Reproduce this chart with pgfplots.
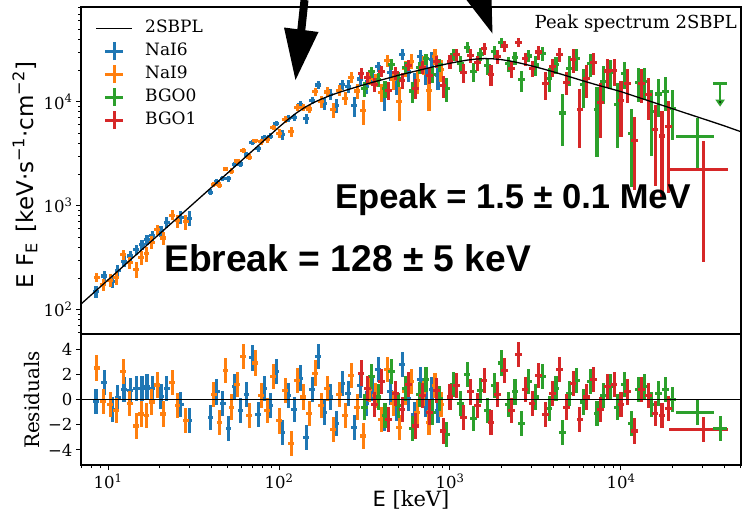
\documentclass[border=0pt]{standalone}
\usepackage{fontspec}
\setmainfont{DejaVu Serif}
\newfontfamily\djsans{DejaVu Sans}
\newfontfamily\lsans{Liberation Sans}
\usepackage{pgfplots}
\usepackage{pgfplotstable}
\pgfplotsset{compat=1.18}
\usetikzlibrary{arrows.meta}

\definecolor{c1}{HTML}{1F77B4}
\definecolor{c2}{HTML}{FF7F0E}
\definecolor{c3}{HTML}{2CA02C}
\definecolor{c4}{HTML}{D62728}

% columns: energy [keV], E F_E, error, residual
\pgfplotstableread{
E F dF R
8.5 149.4 19.8 -0.13
9.5 210.6 23.3 1.36
10.6 188.2 27.3 -0.8
11.4 238.0 30.4 0.13
12.4 291.5 34.5 0.77
13.5 328.1 39.0 0.72
14.6 376.4 43.8 0.9
15.8 423.3 49.3 0.9
16.9 472.3 54.3 1.0
18.1 516.1 60.1 0.9
20.4 570.7 71.8 0.26
22.1 691.4 80.5 0.9
26.7 777.4 106.6 -0.4
29.9 757.8 125.8 -1.67
39.8 1348.4 88.3 -1.4
43.2 1717.7 99.5 0.6
46.8 1832.4 112.0 -0.3
50.7 1811.0 126.1 -2.3
55.0 2506.9 141.9 1.0
59.6 2519.2 159.8 -0.9
64.6 3070.0 179.9 0.4
70.0 4043.3 202.5 3.3
75.9 3525.5 227.9 -1.2
82.2 4506.9 256.6 0.9
89.1 4670.5 288.9 -0.5
96.6 6135.4 325.2 2.2
104.7 4816.1 486.5 -2.6
113.5 6963.2 544.0 0.3
123.0 7067.7 604.1 -0.8
133.4 9394.7 661.6 1.7
144.5 6836.2 719.6 -3.0
156.7 10291.0 773.8 0.8
169.8 14481.3 1234.2 3.4
184.1 9582.3 1306.7 -1.0
199.5 11757.6 1377.8 0.2
216.3 9288.0 1443.7 -1.9
234.4 14533.2 1508.6 1.3
254.1 14091.1 1966.2 0.5
275.4 9142.8 2046.9 -2.2
298.5 16548.9 2130.8 1.1
323.6 14110.1 2216.3 -0.3
350.8 17405.2 2300.3 0.9
380.2 21613.1 2383.8 2.4
412.1 11525.5 3293.0 -1.5
446.7 19108.3 3412.2 0.6
484.2 15226.3 3541.0 -0.7
524.8 28583.9 3664.6 2.8
568.9 19301.5 3784.6 0.1
616.6 14852.7 3908.6 -1.2
668.3 27288.8 4440.5 1.6
724.4 19010.6 4585.9 -0.4
785.2 25317.0 4736.2 0.8
851.1 17786.0 4878.9 -0.9
}\naisix

\pgfplotstableread{
E F dF R
8.6 205.4 20.2 2.5
9.4 173.0 22.9 -0.13
10.3 191.5 26.3 -0.4
11.2 202.8 29.6 -0.85
12.3 336.9 34.1 2.2
13.4 284.3 38.6 -0.33
14.6 245.0 43.8 -2.1
15.7 318.9 48.8 -1.15
16.8 344.0 53.8 -1.3
18.0 446.1 59.5 -0.2
19.4 588.5 66.6 1.15
21.0 489.0 74.8 -1.15
23.8 811.6 90.0 1.33
25.5 716.2 99.6 -0.5
28.5 705.4 117.1 -1.67
41.5 1599.5 93.7 0.4
44.9 1569.1 105.5 -1.8
48.7 2253.2 118.8 2.3
52.8 2148.8 133.7 -0.6
57.2 2689.6 150.5 1.2
62.0 3401.3 169.5 3.4
67.2 2932.0 190.8 -1.3
72.9 4201.6 214.7 2.9
79.0 4102.5 241.8 0.3
85.6 4292.9 272.3 -0.9
92.8 5659.7 306.5 1.8
100.6 4968.0 460.0 -1.7
109.0 6795.4 514.8 0.7
118.2 5152.9 572.6 -3.5
128.1 8861.5 633.0 1.5
138.8 8785.4 691.8 0.2
150.5 8508.1 746.3 -1.1
163.2 12500.0 1198.1 2.1
176.8 9962.1 1271.8 -0.5
191.7 12389.6 1341.8 0.9
207.7 8369.6 1410.6 -2.4
225.2 12904.0 1477.6 0.4
244.1 10837.0 1540.8 -1.3
264.6 17189.5 2006.6 1.9
286.8 12673.5 2089.1 -0.6
310.9 8191.8 2174.9 -2.9
337.0 16863.9 2258.6 0.8
365.3 16316.6 2342.1 0.3
395.9 12295.3 2426.7 -1.6
429.1 24807.8 3352.4 2.4
465.1 16339.1 3476.4 -0.3
504.2 10096.8 3606.0 -2.2
546.5 20855.5 3724.2 0.6
592.4 24615.7 3846.2 1.4
642.1 15888.8 3972.2 -1.0
695.9 22768.3 4512.6 0.5
754.3 12795.1 4660.5 -1.8
817.6 27140.1 4807.4 1.1
886.2 20518.2 4949.6 -0.4
}\nainine

\pgfplotstableread{
E F dF R
316 13306.0 2193.3 -0.6
347 19373.9 2288.3 1.8
380 16369.8 2384.0 0.2
417 13324.4 2482.8 -1.3
457 22934.5 2586.6 2.2
501 16639.8 2698.4 -0.5
550 21183.6 2799.6 0.9
603 12683.4 2904.6 -2.3
661 21296.5 3013.7 0.4
724 25847.9 3126.8 1.6
794 18382.9 3244.1 -1.0
871 22692.4 3353.6 0.1
955 13385.7 3461.9 -2.8
1047 28356.4 3806.2 1.2
1148 23311.6 3917.9 -0.3
1259 33157.0 4019.0 2.0
1380 19445.3 4093.8 -1.5
1514 28780.8 4141.1 0.7
1660 22216.7 4152.6 -0.9
1820 30325.5 4125.9 1.1
1995 37200.2 4065.6 2.9
2188 23221.2 3969.4 -0.4
2399 26401.5 3854.2 0.6
2630 16218.8 3728.5 -1.9
2884 27516.8 3597.0 1.4
3162 22578.6 4757.9 0.2
3467 28992.2 4569.0 1.8
3802 16848.9 4381.5 -0.7
4169 22827.9 4192.1 0.9
4571 7788.4 4003.3 -2.6
5012 20679.8 6603.6 0.5
5495 26055.8 6306.5 1.5
6026 14644.5 6022.6 -0.2
6607 23209.8 5757.0 1.4
7244 8440.1 5510.8 -1.1
7943 15776.5 6255.0 0.3
8710 19321.3 5996.3 1.0
9550 9322.8 5747.0 -0.6
10471 18777.3 5486.9 1.2
11482 4986.7 3479.1 -1.9
12589 15437.8 5513.5 0.8
13804 15732.0 5244.0 1.0
15136 7980.0 4987.5 -0.4
16596 11858.8 4743.5 0.5
18197 12630.8 4511.0 0.8
19953 8582.0 4291.0 0.0
}\bgozero

\pgfplotstableread{
E F dF R
302 18790.1 2143.4 2.1
331 16951.2 2240.3 0.9
363 14640.5 2336.3 -0.4
398 19623.8 2432.7 1.4
437 12836.4 2533.5 -1.6
479 18934.0 2642.0 0.5
525 16124.2 2748.5 -0.8
575 22433.0 2851.7 1.2
631 13510.9 2958.6 -2.1
692 21384.9 3069.6 0.3
759 18047.2 3184.8 -1.0
832 24296.7 3298.2 0.7
912 14199.4 3407.9 -2.5
1000 24192.1 3750.7 0.2
1096 28393.3 3863.0 1.1
1202 19242.5 3967.5 -1.4
1318 27784.7 4056.2 0.6
1445 23701.9 4122.1 -0.5
1585 32242.5 4160.3 1.5
1738 18445.0 4145.0 -1.8
1905 27236.3 4095.7 0.4
2089 34346.3 4017.1 2.3
2291 20944.6 3914.9 -0.9
2512 37373.1 3794.2 3.6
2754 25829.0 3663.7 0.8
3020 20991.6 3528.0 -0.3
3311 30055.9 4663.1 1.9
3631 14973.9 4475.9 -1.2
3981 21642.8 4289.6 0.5
4365 28452.8 4096.6 2.4
4786 15435.6 3912.3 -0.6
5248 25371.2 6453.2 1.3
5754 8437.5 4867.8 -1.6
6310 16665.1 5885.4 0.2
6918 23829.0 5631.2 1.6
7586 9880.4 5394.5 -0.8
8318 19737.4 6125.4 1.0
9120 20092.4 5871.2 1.2
10000 10252.5 5626.4 -0.4
10965 15104.1 5351.9 0.6
12023 4240.9 2827.3 -2.5
13183 15057.0 5377.5 0.8
14454 11762.2 5114.0 0.3
15849 5447.1 3890.8 -1.1
17378 4681.5 3515.8 -1.3
19055 5719.3 4399.5 -0.7
}\bgoone

% wide high-energy bins
\pgfplotstableread{
E F dF R exm exp
28000 4600 2350 -1.05 7000 7000
}\wideg
\pgfplotstableread{
E F dF R exm exp
30500 2240 1950 -2.4 11500 11500
}\wider
% upper limit (BGO0)
\pgfplotstableread{
E F dF R
38000 15000 6040 -2.3
}\ulg

% 2SBPL model curve
\pgfplotstableread{
E F
6.95 113.2
10 193.2
31.62 1050
100 5702
112.2 6699
125.9 7762
141.3 8810
158.5 9772
177.8 10641
199.5 11482
223.9 12274
251.2 13032
281.8 13804
316.2 14622
354.8 15417
398.1 16218
446.7 17061
501.2 17989
562.3 18836
631.0 19724
707.9 20654
794.3 21627
891.3 22542
1000 23442
1122 24322
1259 25119
1413 25704
1585 26002
1778 25882
1995 25410
2239 24660
2512 23714
2818 22699
3162 21627
3548 20559
3981 19498
4467 18408
5012 17378
5623 16406
6310 15488
7079 14655
7943 13900
8913 13183
10000 12503
12589 11027
15849 9727
19953 8582
25119 7568
31623 6683
39811 5894
50350 5140
}\model

\pgfplotsset{
  ebtop/.style 2 args={draw=none, mark=none, forget plot,
    error bars/.cd, x dir=both, x fixed relative=#2, y dir=both, y explicit,
    error mark=none, error bar style={draw=#1, line width=3.1pt}},
  ebres/.style 2 args={draw=none, mark=none, forget plot,
    error bars/.cd, x dir=both, x fixed relative=#2, y dir=both, y fixed=1,
    error mark=none, error bar style={draw=#1, line width=3.1pt}},
}

\begin{document}
\begin{tikzpicture}
\useasboundingbox (0pt,0pt) rectangle (742pt,-514pt);

\begin{axis}[
  scale only axis, width=660pt, height=327pt,
  at={(81pt,-7pt)}, anchor=north west,
  xmode=log, ymode=log,
  xmin=6.95, xmax=50350, ymin=58.3, ymax=81500,
  tick align=outside, ytick pos=left,
  major tick length=5pt, minor tick length=3pt,
  major tick style={black, line width=1pt},
  minor tick style={black, line width=0.7pt},
  axis line style={line width=1.3pt},
  tick label style={font=\fontsize{16.5}{20}\selectfont},
  xtick=\empty,
  ytick={100,1000,10000},
  yticklabels={10\textsuperscript{2},10\textsuperscript{3},10\textsuperscript{4}},
  minor ytick={60,70,80,90,200,300,400,500,600,700,800,900,2000,3000,4000,5000,6000,7000,8000,9000,20000,30000,40000,50000,60000,70000,80000},
  ylabel={{\djsans E F\textsubscript{E}\hspace{0.45em}[keV·s\textsuperscript{−1}·cm\textsuperscript{−2}]}},
  ylabel style={font=\fontsize{23}{27}\selectfont, at={(axis description cs:-0.085,0.486)}, anchor=center},
  legend style={at={(axis description cs:0,1)}, anchor=north west, xshift=15pt, yshift=-12.5pt,
    draw=none, fill=none, inner sep=0pt,
    font=\fontsize{17}{20}\selectfont,
    nodes={inner sep=1pt, text height=12pt, text depth=3pt},
    row sep=6pt},
  legend cell align=left,
]
\addlegendimage{legend image code/.code={
  \draw[black, line width=1.3pt, overlay] (0pt,0pt) -- (36pt,0pt);
  \path[draw=none] (0pt,0pt) -- (48pt,0pt);}}
\addlegendentry{2SBPL}
\addlegendimage{legend image code/.code={
  \draw[c1, line width=2.8pt, overlay] (9pt,0pt) -- (27pt,0pt) (18pt,-9pt) -- (18pt,9pt);
  \path[draw=none] (0pt,0pt) -- (48pt,0pt);}}
\addlegendentry{NaI6}
\addlegendimage{legend image code/.code={
  \draw[c2, line width=2.8pt, overlay] (9pt,0pt) -- (27pt,0pt) (18pt,-9pt) -- (18pt,9pt);
  \path[draw=none] (0pt,0pt) -- (48pt,0pt);}}
\addlegendentry{NaI9}
\addlegendimage{legend image code/.code={
  \draw[c3, line width=2.8pt, overlay] (9pt,0pt) -- (27pt,0pt) (18pt,-9pt) -- (18pt,9pt);
  \path[draw=none] (0pt,0pt) -- (48pt,0pt);}}
\addlegendentry{BGO0}
\addlegendimage{legend image code/.code={
  \draw[c4, line width=2.8pt, overlay] (9pt,0pt) -- (27pt,0pt) (18pt,-9pt) -- (18pt,9pt);
  \path[draw=none] (0pt,0pt) -- (48pt,0pt);}}
\addlegendentry{BGO1}

\addplot[ebtop={c1}{0.04}] table[x=E, y=F, y error=dF] {\naisix};
\addplot[ebtop={c2}{0.04}] table[x=E, y=F, y error=dF] {\nainine};
\addplot[ebtop={c3}{0.045}] table[x=E, y=F, y error=dF] {\bgozero};
\addplot[ebtop={c4}{0.045}] table[x=E, y=F, y error=dF] {\bgoone};
\addplot[draw=none, mark=none, forget plot, error bars/.cd, x dir=both, x explicit, y dir=both, y explicit,
  error mark=none, error bar style={draw=c3, line width=3.1pt}]
  table[x=E, y=F, y error=dF, x error minus=exm, x error plus=exp] {\wideg};
\addplot[draw=none, mark=none, forget plot, error bars/.cd, x dir=both, x explicit, y dir=both, y explicit,
  error mark=none, error bar style={draw=c4, line width=3.1pt}]
  table[x=E, y=F, y error=dF, x error minus=exm, x error plus=exp] {\wider};
\addplot[draw=none, mark=none, forget plot, error bars/.cd, x dir=both, x fixed relative=0.09,
  error mark=none, error bar style={draw=c3, line width=3pt}]
  table[x=E, y=F] {\ulg};
\addplot[draw=none, mark=none, forget plot, error bars/.cd, y dir=minus, y explicit,
  error mark=none, error bar style={draw=c3, line width=2.6pt, -{Triangle[length=7pt, width=9pt]}}]
  table[x=E, y=F, y error=dF] {\ulg};

\addplot[black, line width=1.3pt, forget plot] table[x=E, y=F] {\model};
\end{axis}

\begin{axis}[
  scale only axis, width=660pt, height=131pt,
  at={(81pt,-334pt)}, anchor=north west,
  xmode=log, xmin=6.95, xmax=50350,
  ymin=-5.2, ymax=5.2,
  tick align=outside, ytick pos=left, xtick pos=bottom,
  major tick length=5pt, minor tick length=3pt,
  major tick style={black, line width=1pt},
  minor tick style={black, line width=0.7pt},
  axis line style={line width=1.3pt},
  tick label style={font=\fontsize{16.5}{20}\selectfont},
  xtick={10,100,1000,10000},
  xticklabels={10\textsuperscript{1},10\textsuperscript{2},10\textsuperscript{3},10\textsuperscript{4}},
  minor xtick={7,8,9,20,30,40,50,60,70,80,90,200,300,400,500,600,700,800,900,2000,3000,4000,5000,6000,7000,8000,9000,20000,30000,40000,50000},
  ytick={-4,-2,0,2,4},
  yticklabels={−4,−2,0,2,4},
  xlabel={{\djsans E} [keV]},
  xlabel style={font=\fontsize{21}{25}\selectfont, at={(axis description cs:0.5,-0.32)}, anchor=base},
  ylabel={Residuals},
  ylabel style={font=\fontsize{20}{24}\selectfont, at={(axis description cs:-0.074,0.496)}, anchor=center},
]
\addplot[ebres={c1}{0.04}] table[x=E, y=R] {\naisix};
\addplot[ebres={c2}{0.04}] table[x=E, y=R] {\nainine};
\addplot[ebres={c3}{0.045}] table[x=E, y=R] {\bgozero};
\addplot[ebres={c4}{0.045}] table[x=E, y=R] {\bgoone};
\addplot[draw=none, mark=none, forget plot, error bars/.cd, x dir=both, x explicit, y dir=both, y fixed=1,
  error mark=none, error bar style={draw=c3, line width=3.1pt}]
  table[x=E, y=R, x error minus=exm, x error plus=exp] {\wideg};
\addplot[draw=none, mark=none, forget plot, error bars/.cd, x dir=both, x explicit, y dir=both, y fixed=1,
  error mark=none, error bar style={draw=c4, line width=3.1pt}]
  table[x=E, y=R, x error minus=exm, x error plus=exp] {\wider};
\addplot[ebres={c3}{0.09}] table[x=E, y=R] {\ulg};
\addplot[black, line width=1.3pt, forget plot] coordinates {(6.95,0) (50350,0)};
\end{axis}

% annotation arrows
\draw[black, line width=8pt] (304.5pt,0pt) -- (301.2pt,-31pt);
\fill[black] (284pt,-27.5pt) -- (318.5pt,-32pt) -- (295.5pt,-80pt) -- cycle;
\fill[black] (466.5pt,0pt) -- (491.5pt,0pt) -- (492.5pt,-33.5pt) -- cycle;

\node[anchor=base east, inner sep=0pt, font=\fontsize{18}{22}\selectfont] at (737pt,-28.5pt) {Peak spectrum 2SBPL};
\node[anchor=base west, inner sep=0pt, font=\fontsize{34.5}{40}\selectfont\lsans\bfseries] at (335pt,-208.3pt) {Epeak = 1.5 ± 0.1 MeV};
\node[anchor=base west, inner sep=0pt, font=\fontsize{37.2}{43}\selectfont\lsans\bfseries] at (164pt,-271.7pt) {Ebreak = 128 ± 5 keV};
\end{tikzpicture}
\end{document}
